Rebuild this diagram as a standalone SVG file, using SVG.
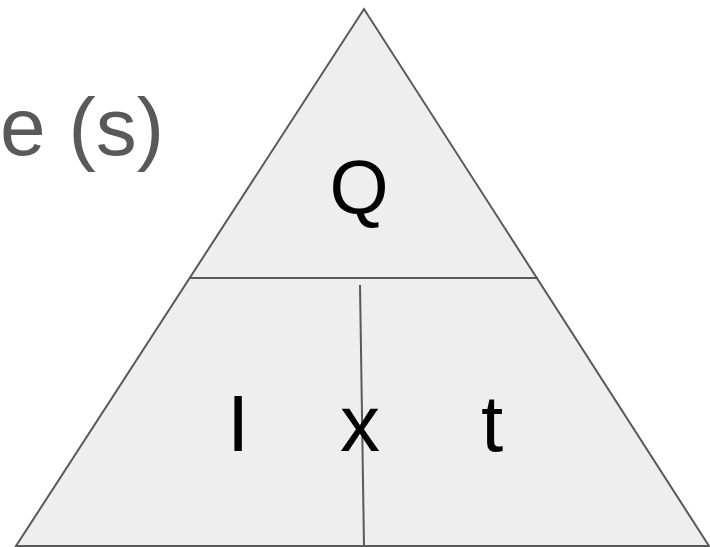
<svg xmlns="http://www.w3.org/2000/svg" width="710" height="547" viewBox="0 0 710 547">
<style>
.ln{stroke:#595959;stroke-width:2;fill:none}
.big{font-family:"Liberation Sans",Arial,sans-serif;fill:#000}
</style>
<rect width="710" height="547" fill="#fff"/>
<text x="0" y="155" font-family="Liberation Sans,Arial,sans-serif" font-size="82" fill="#595959">e (s)</text>
<g id="triangle">
<polygon points="364,9 16,546 709,546" fill="#eeeeee" stroke="#595959" stroke-width="2"/>
</g>
<g id="connectors">
<line class="ln" x1="190" y1="278" x2="538" y2="278"/>
<line class="ln" x1="360" y1="285" x2="364" y2="546"/>
</g>
<g id="node-Q"><text class="big" x="359" y="213" font-size="76" text-anchor="middle">Q</text></g>
<g id="node-I"><text class="big" x="238" y="451" font-size="80" text-anchor="middle">I</text></g>
<g id="node-x"><text class="big" x="360" y="451" font-size="80" text-anchor="middle">x</text></g>
<g id="node-t"><text class="big" x="492" y="451" font-size="80" text-anchor="middle">t</text></g>
</svg>
